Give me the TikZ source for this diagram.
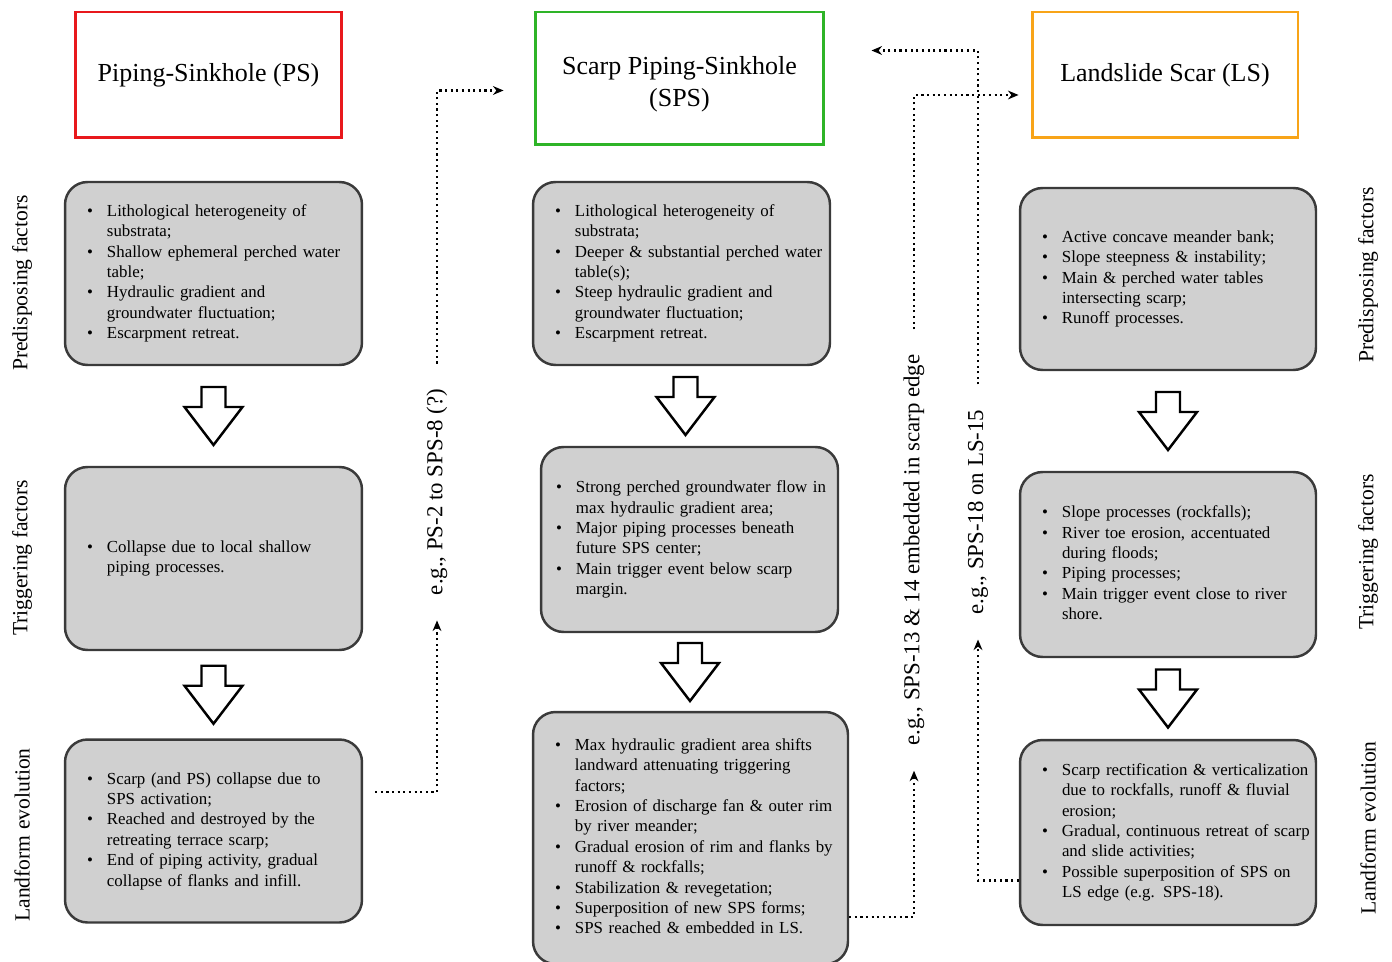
\documentclass[tikz,border=0pt]{standalone}
\usepackage{fontspec}
\setmainfont{Liberation Serif}
\usepackage{xcolor}
\usepackage{tikz}
\usetikzlibrary{arrows.meta,calc}

\definecolor{psred}{RGB}{232,24,28}
\definecolor{spsgreen}{RGB}{46,180,40}
\definecolor{lsorange}{RGB}{248,164,24}
\definecolor{boxfill}{RGB}{208,208,208}
\definecolor{boxline}{RGB}{58,58,58}

\newcommand{\bul}{\textbullet}
\newenvironment{bullets}{\begin{tabular}{@{}l@{\hspace{8pt}}l@{}}}{\end{tabular}}

\begin{document}
\begin{tikzpicture}[x=0.02cm, y=-0.02cm,
    title/.style={draw, line width=1.7pt, align=center, font=\fontsize{14.8}{18}\selectfont},
    factor/.style={draw=boxline, fill=boxfill, line width=1.4pt, rounded corners=0.45cm, align=left,
        inner xsep=0.44cm, text width=5.06cm, minimum height=3.66cm, font=\fontsize{9.6}{11.6}\selectfont},
    side/.style={rotate=90, font=\fontsize{12.3}{14}\selectfont},
    note/.style={rotate=90, inner xsep=0.5cm, font=\fontsize{13}{15}\selectfont},
    link/.style={line width=1.2pt, dash pattern=on 1.2pt off 2pt, -{Stealth[length=6pt,width=5pt]}},
    hollow/.pic={\draw[line width=1.4pt, fill=white] (-12,-29) -- (12,-29) -- (12,-9) -- (29,-9) -- (0,29) -- (-29,-9) -- (-12,-9) -- cycle;}
    ]
            \useasboundingbox (0,0) rectangle (1392,962);

            \node [title, draw=psred, minimum width=5.34cm, minimum height=2.52cm] (ps) at (208.5,75) {Piping-Sinkhole (PS)};
            \node [title, draw=spsgreen, minimum width=5.78cm, minimum height=2.66cm] (sps) at (679.5,78.5) {};
            \node [font=\fontsize{14.8}{18}\selectfont, align=center] (spstext) at (679.5,84) {Scarp Piping-Sinkhole\\(SPS)};
            \node [title, draw=lsorange, minimum width=5.32cm, minimum height=2.52cm] (ls) at (1165,75) {Landslide Scar (LS)};

            \node [factor] (pspre) at (213.5,273.5) {\begin{bullets}
                \bul & Lithological heterogeneity of\\
                     & substrata;\\
                \bul & Shallow ephemeral perched water\\
                     & table;\\
                \bul & Hydraulic gradient and\\
                     & groundwater fluctuation;\\
                \bul & Escarpment retreat.
            \end{bullets}};
            \node [factor] (pstrig) at (213.5,558.5) {\begin{bullets}
                \bul & Collapse due to local shallow\\
                     & piping processes.
            \end{bullets}};
            \node [factor] (pslan) at (213.5,831) {\begin{bullets}
                \bul & Scarp (and PS) collapse due to\\
                     & SPS activation;\\
                \bul & Reached and destroyed by the\\
                     & retreating terrace scarp;\\
                \bul & End of piping activity, gradual\\
                     & collapse of flanks and infill.
            \end{bullets}};

            \node [factor] (spspre) at (681.5,273.5) {\begin{bullets}
                \bul & Lithological heterogeneity of\\
                     & substrata;\\
                \bul & Deeper \& substantial perched water\\
                     & table(s);\\
                \bul & Steep hydraulic gradient and\\
                     & groundwater fluctuation;\\
                \bul & Escarpment retreat.
            \end{bullets}};
            \node [factor, inner xsep=0.3cm, text width=5.34cm, minimum height=3.7cm] (spstrig) at (689.5,539.5) {\begin{bullets}
                \bul & Strong perched groundwater flow in\\
                     & max hydraulic gradient area;\\
                \bul & Major piping processes beneath\\
                     & future SPS center;\\
                \bul & Main trigger event below scarp\\
                     & margin.
            \end{bullets}};
            \node [factor, text width=5.42cm, minimum height=5.04cm] (spslan) at (690.5,838) {\begin{bullets}
                \bul & Max hydraulic gradient area shifts\\
                     & landward attenuating triggering\\
                     & factors;\\
                \bul & Erosion of discharge fan \& outer rim\\
                     & by river meander;\\
                \bul & Gradual erosion of rim and flanks by\\
                     & runoff \& rockfalls;\\
                \bul & Stabilization \& revegetation;\\
                \bul & Superposition of new SPS forms;\\
                \bul & SPS reached \& embedded in LS.
            \end{bullets}};

            \node [factor, text width=5.04cm, minimum height=3.64cm] (lspre) at (1168,279) {\begin{bullets}
                \bul & Active concave meander bank;\\
                \bul & Slope steepness \& instability;\\
                \bul & Main \& perched water tables\\
                     & intersecting scarp;\\
                \bul & Runoff processes.
            \end{bullets}};
            \node [factor, text width=5.04cm, minimum height=3.7cm] (lstrig) at (1168,564.5) {\begin{bullets}
                \bul & Slope processes (rockfalls);\\
                \bul & River toe erosion, accentuated\\
                     & during floods;\\
                \bul & Piping processes;\\
                \bul & Main trigger event close to river\\
                     & shore.
            \end{bullets}};
            \node [factor, text width=5.04cm, minimum height=3.7cm] (lslan) at (1168,832.5) {\begin{bullets}
                \bul & Scarp rectification \& verticalization\\
                     & due to rockfalls, runoff \& fluvial\\
                     & erosion;\\
                \bul & Gradual, continuous retreat of scarp\\
                     & and slide activities;\\
                \bul & Possible superposition of SPS on\\
                     & LS edge (e.g. SPS-18).
            \end{bullets}};

            \pic at ($(pspre.south)!0.5!(pstrig.north)$) {hollow};
            \pic at ($(pstrig.south)!0.5!(pslan.north)$) {hollow};
            \pic at ($(spspre.south)!0.5!(spstrig.north)$) {hollow};
            \pic at ($(spstrig.south)!0.5!(spslan.north)$) {hollow};
            \pic at ($(lspre.south)!0.5!(lstrig.north)$) {hollow};
            \pic at ($(lstrig.south)!0.5!(lslan.north)$) {hollow};

            \node [side] (lpre) at (22,283) {Predisposing factors};
            \node [side] (ltrig) at (22,558) {Triggering factors};
            \node [side] (llan) at (22,835) {Landform evolution};
            \node [side] (rpre) at (1368,275) {Predisposing factors};
            \node [side] (rtrig) at (1368,552) {Triggering factors};
            \node [side] (rlan) at (1368,828) {Landform evolution};

            \node [note] (eg1) at (437,492) {e.g., PS-2 to SPS-8 (?)};
            \node [note] (eg2) at (914,550) {e.g., SPS-13 \& 14 embedded in scarp edge};
            \node [note] (eg3) at (978,512) {e.g., SPS-18 on LS-15};

            \draw [link] ([shift={(12,-39)}]pslan.east) -| (eg1.west);
            \draw [link] (eg1.east) |- ([shift={(-30,12)}]sps.west);
            \draw [link] ([shift={(0,79)}]spslan.east) -| (eg2.west);
            \draw [link] (eg2.east) |- ([shift={(-12,20)}]ls.west);
            \draw [link] ([shift={(0,48)}]lslan.west) -| (eg3.west);
            \draw [link] (eg3.east) |- ([shift={(46,-28)}]sps.east);
        \end{tikzpicture}
\end{document}
